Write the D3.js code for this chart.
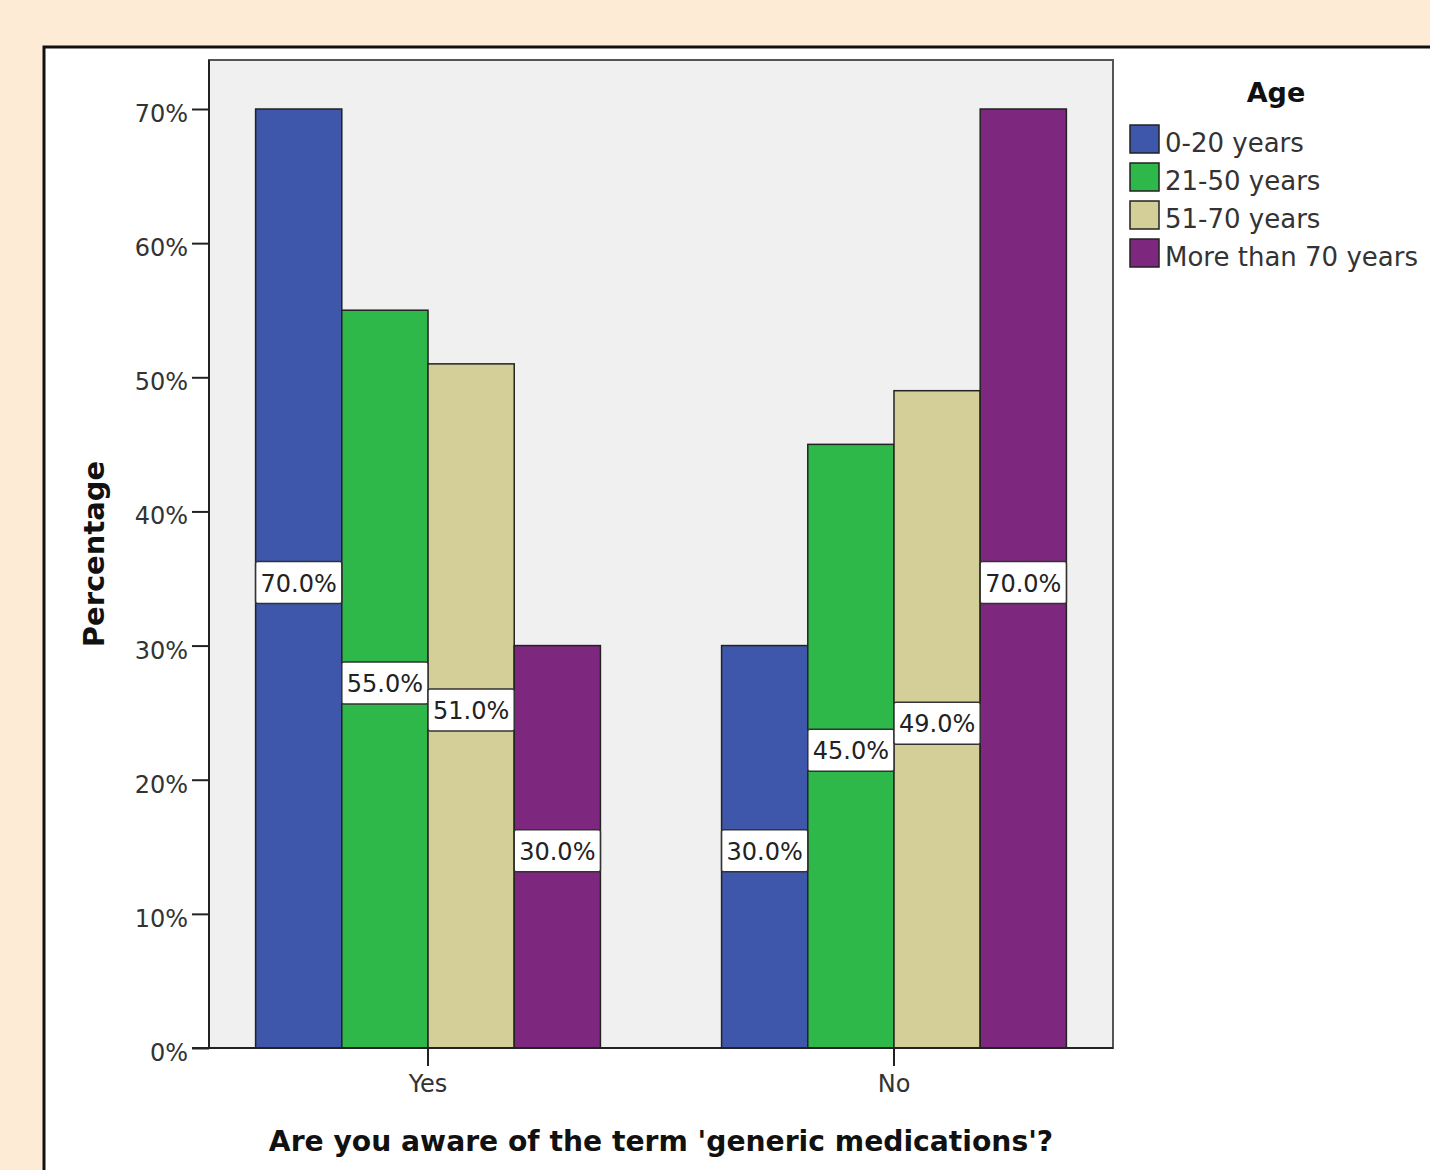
<!DOCTYPE html>
<html>
<head>
<meta charset="utf-8">
<script src="https://cdn.jsdelivr.net/npm/d3@7"></script>
<style>
  html, body { margin: 0; padding: 0; background: #fdebd6; }
  svg { display: block; }
</style>
</head>
<body>
<div id="chart"></div>
<script>
// data
const answers = ["Yes", "No"];
const ageGroups = ["0-20 years", "21-50 years", "51-70 years", "More than 70 years"];
const yesValues = [70.0, 55.0, 51.0, 30.0];
const noValues = [30.0, 45.0, 49.0, 70.0];
const yTicks = [0, 10, 20, 30, 40, 50, 60, 70];
const colors = ["#3e57aa", "#2fb84a", "#d4cf98", "#7d287e"];

const width = 1430, height = 1170;
const plot = { left: 209, right: 1113, top: 60, bottom: 1048 };

const rows = [];
answers.forEach((a, i) => {
    const vals = i === 0 ? yesValues : noValues;
    ageGroups.forEach((g, j) => rows.push({ answer: a, age: g, value: vals[j], idx: j }));
});

const svg = d3.select("#chart").append("svg")
    .attr("width", width)
    .attr("height", height);

// white chart panel
svg.append("rect")
    .attr("x", 44).attr("y", 47)
    .attr("width", width).attr("height", height)
    .attr("fill", "#fff")
    .attr("stroke", "#111")
    .attr("stroke-width", 3);

// plot background
svg.append("rect")
    .attr("x", plot.left).attr("y", plot.top)
    .attr("width", plot.right - plot.left)
    .attr("height", plot.bottom - plot.top)
    .attr("fill", "#f0f0f0")
    .attr("stroke", "#555")
    .attr("stroke-width", 2);

const x0 = d3.scaleBand()
    .domain(answers)
    .range([plot.left, plot.right])
    .paddingInner(0.26)
    .paddingOuter(0.1);

const x1 = d3.scaleBand()
    .domain(ageGroups)
    .range([0, x0.bandwidth()]);

const y = d3.scaleLinear()
    .domain([0, 70])
    .range([plot.bottom, 109]);

const color = d3.scaleOrdinal().domain(ageGroups).range(colors);

// bars
svg.append("g")
    .selectAll("rect")
    .data(rows)
    .join("rect")
    .attr("x", d => x0(d.answer) + x1(d.age))
    .attr("y", d => y(d.value))
    .attr("width", x1.bandwidth())
    .attr("height", d => y(0) - y(d.value))
    .attr("fill", d => color(d.age))
    .attr("stroke", "#222")
    .attr("stroke-width", 1.5);

// value labels
const lab = svg.append("g")
    .selectAll("g")
    .data(rows)
    .join("g")
    .attr("transform", d => `translate(${x0(d.answer) + x1(d.age) + x1.bandwidth() / 2}, ${y(d.value / 2) + 4})`);

lab.append("rect")
    .attr("x", -x1.bandwidth() / 2)
    .attr("y", -21)
    .attr("width", x1.bandwidth())
    .attr("height", 42)
    .attr("rx", 2)
    .attr("fill", "#fff")
    .attr("stroke", "#333")
    .attr("stroke-width", 1.5);

lab.append("text")
    .text(d => d.value.toFixed(1) + "%")
    .attr("text-anchor", "middle")
    .attr("dy", 9)
    .attr("font-family", "DejaVu Sans")
    .attr("font-size", 24)
    .attr("fill", "#222");

// y axis
const yAxis = svg.append("g")
    .attr("transform", `translate(${plot.left}, 0)`)
    .call(d3.axisLeft(y).tickValues(yTicks).tickSize(17).tickPadding(4).tickFormat(d => d + "%"));
yAxis.select(".domain").remove();
yAxis.selectAll("line").attr("stroke", "#222").attr("stroke-width", 2);
yAxis.selectAll("text")
    .attr("font-family", "DejaVu Sans")
    .attr("font-size", 24)
    .attr("fill", "#333")
    .attr("dy", "0.52em");

// x axis
const xAxis = svg.append("g")
    .attr("transform", `translate(0, ${plot.bottom})`)
    .call(d3.axisBottom(x0).tickSize(18).tickPadding(9));
xAxis.select(".domain").remove();
xAxis.selectAll("line").attr("stroke", "#222").attr("stroke-width", 2);
xAxis.selectAll("text")
    .attr("font-family", "DejaVu Sans")
    .attr("font-size", 24)
    .attr("fill", "#333");

// axis lines
svg.append("line")
    .attr("x1", plot.left).attr("x2", plot.left)
    .attr("y1", plot.top).attr("y2", plot.bottom)
    .attr("stroke", "#222").attr("stroke-width", 2);
svg.append("line")
    .attr("x1", plot.left - 17).attr("x2", plot.right)
    .attr("y1", plot.bottom).attr("y2", plot.bottom)
    .attr("stroke", "#222").attr("stroke-width", 2);

// titles
svg.append("text")
    .text("Are you aware of the term 'generic medications'?")
    .attr("x", (plot.left + plot.right) / 2)
    .attr("y", 1151)
    .attr("text-anchor", "middle")
    .attr("font-family", "DejaVu Sans")
    .attr("font-weight", "bold")
    .attr("font-size", 28.2)
    .attr("fill", "#111");

svg.append("text")
    .text("Percentage")
    .attr("transform", `translate(104, ${(plot.top + plot.bottom) / 2}) rotate(-90)`)
    .attr("text-anchor", "middle")
    .attr("font-family", "DejaVu Sans")
    .attr("font-weight", "bold")
    .attr("font-size", 29)
    .attr("fill", "#111");

// legend
const legend = svg.append("g").attr("transform", "translate(1130, 125)");
legend.append("text")
    .text("Age")
    .attr("x", 146).attr("y", -23)
    .attr("text-anchor", "middle")
    .attr("font-family", "DejaVu Sans")
    .attr("font-weight", "bold")
    .attr("font-size", 27)
    .attr("fill", "#111");

const items = legend.selectAll(".item")
    .data(ageGroups)
    .join("g")
    .attr("class", "item")
    .attr("transform", (d, i) => `translate(0, ${i * 38})`);

items.append("rect")
    .attr("width", 29).attr("height", 28)
    .attr("fill", d => color(d))
    .attr("stroke", "#222")
    .attr("stroke-width", 1.5);

items.append("text")
    .text(d => d)
    .attr("x", 35).attr("y", 27)
    .attr("font-family", "DejaVu Sans")
    .attr("font-size", 26)
    .attr("fill", "#333");
</script>
</body>
</html>
